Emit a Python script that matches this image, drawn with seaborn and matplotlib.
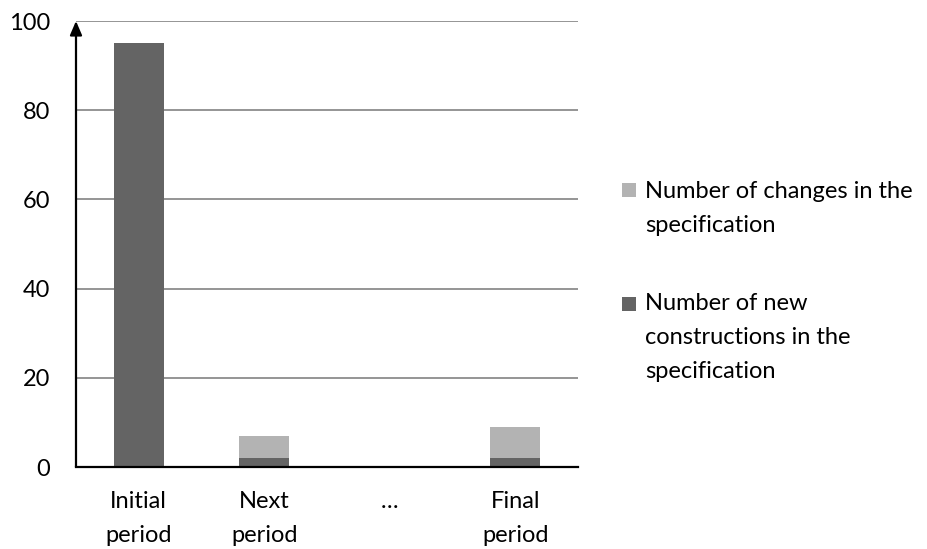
import matplotlib
matplotlib.use("Agg")
import matplotlib.pyplot as plt
import seaborn as sns
import pandas as pd
from matplotlib.patches import Rectangle

categories = ["Initial\nperiod", "Next\nperiod", "…", "Final\nperiod"]
new_constructions = [95, 2, 0, 2]
changes = [0, 5, 0, 7]
y_ticks = [0, 20, 40, 60, 80, 100]
legend_labels = ["Number of changes in the\nspecification",
                 "Number of new\nconstructions in the\nspecification"]

dark = "#646464"
light = "#b3b3b3"

sns.set_theme(style="white")
plt.rcParams['font.family'] = ['Lato', 'DejaVu Sans']

df = pd.DataFrame({
    "period": categories,
    "new": new_constructions,
    "total": [a + b for a, b in zip(new_constructions, changes)],
})

fig = plt.figure(figsize=(9.27, 5.49), dpi=100)
ax = fig.add_axes([76/927, 1-467/549, (578-76)/927, (467-21)/549])

sns.barplot(data=df, x="period", y="total", color=light, saturation=1,
            width=0.4, ax=ax, zorder=3, linewidth=0, edgecolor="none")
sns.barplot(data=df, x="period", y="new", color=dark, saturation=1,
            width=0.4, ax=ax, zorder=4, linewidth=0, edgecolor="none")

ax.set_ylim(0, 100)
ax.set_xlim(-0.5, 3.5)
ax.set_yticks(y_ticks)
ax.set_yticklabels([str(v) for v in y_ticks])
ax.set_xlabel("")
ax.set_ylabel("")

for v in y_ticks[1:]:
    ax.axhline(v, color="#8c8c8c", lw=1.3, zorder=1)

for s in ["top", "right", "left"]:
    ax.spines[s].set_visible(False)
ax.spines["bottom"].set_color("black")
ax.spines["bottom"].set_linewidth(1.6)
ax.spines["bottom"].set_zorder(5)

ax.annotate("", xy=(0, 1.0), xycoords="axes fraction",
            xytext=(0, 0), textcoords="axes fraction",
            arrowprops=dict(arrowstyle="-|>,head_length=0.7,head_width=0.3",
                            color="black", lw=1.6, shrinkA=0, shrinkB=0),
            annotation_clip=False, zorder=6)

fs = 17
ax.tick_params(axis="y", length=0, pad=18.5, labelsize=fs, colors="black")
ax.tick_params(axis="x", length=0, pad=17, labelsize=fs, colors="black")
for t in ax.get_xticklabels():
    t.set_linespacing(1.8)
    t.set_verticalalignment("top")

# legend (baseline refers to last line of each entry)
entries = [(light, legend_labels[0], 232, 183), (dark, legend_labels[1], 378, 297)]
for col, lab, base_px, sq_top in entries:
    fig.patches.append(Rectangle((622/927, 1-(sq_top+14)/549), 14/927, 14/549,
                                 transform=fig.transFigure, facecolor=col,
                                 edgecolor="none"))
    fig.text(645/927, 1-base_px/549, lab, fontsize=fs, va="baseline", ha="left",
             linespacing=1.75, color="black")

fig.savefig("out.png", dpi=100)
